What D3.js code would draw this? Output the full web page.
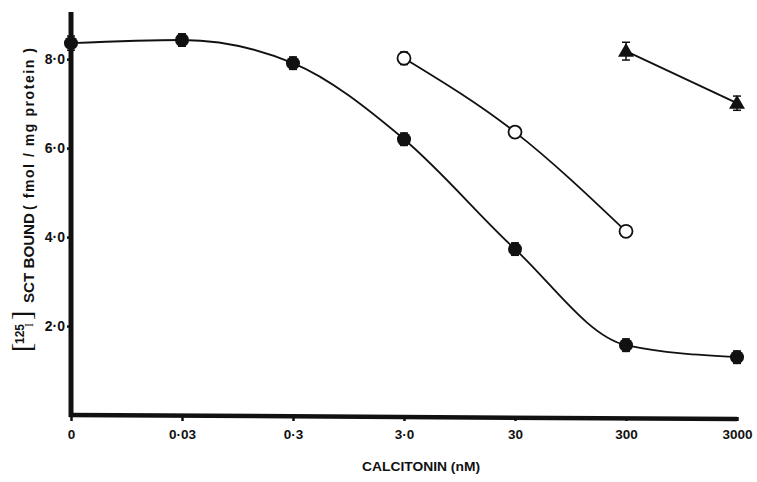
<!DOCTYPE html>
<html>
<head>
<meta charset="utf-8">
<script src="https://cdn.jsdelivr.net/npm/d3@7"></script>
<style>
  body { margin: 0; background: #fff; }
  svg { display: block; }
</style>
</head>
<body>
<div id="chart"></div>
<script>
// ---- Data ----
const doses = ['0', '0·03', '0·3', '3·0', '30', '300', '3000'];
const yTicks = [2, 4, 6, 8];
const yTickLabels = ['2·0', '4·0', '6·0', '8·0'];

// filled circles: full dose range
const filledDoses = ['0', '0·03', '0·3', '3·0', '30', '300', '3000'];
const filledValues = [8.36, 8.43, 7.91, 6.2, 3.73, 1.57, 1.3];
const filledErr = [0.16, 0.14, 0.14, 0.14, 0.14, 0.14, 0.14];

// open circles
const openDoses = ['3·0', '30', '300'];
const openValues = [8.02, 6.36, 4.13];
const openErr = [0.14, 0.12, 0.1];

// triangles
const triDoses = ['300', '3000'];
const triValues = [8.18, 7.01];
const triErr = [0.2, 0.16];

const width = 757, height = 482;
const margin = { top: 12, right: 20, bottom: 67, left: 71 };
const innerWidth = width - margin.left - margin.right;
const innerHeight = height - margin.top - margin.bottom;
const SANS = '"Liberation Sans", Arial, sans-serif';
const SERIF = '"Liberation Serif", serif';

const svg = d3.select('#chart').append('svg')
  .attr('width', width).attr('height', height)
  .attr('font-family', SANS).attr('font-weight', 'bold').attr('fill', '#111');
const g = svg.append('g').attr('transform', `translate(${margin.left},${margin.top})`);

// ---- Scales ----
const x = d3.scalePoint().domain(doses).range([0, 666]);
const y = d3.scaleLinear().domain([0, 9.06]).range([innerHeight, 0]);

// ---- Axes ----
g.append('line')
  .attr('x1', 0).attr('x2', 0).attr('y1', 0).attr('y2', innerHeight + 2)
  .attr('stroke', '#111').attr('stroke-width', 5);
g.append('line')
  .attr('x1', -2).attr('x2', x('3000')).attr('y1', innerHeight).attr('y2', innerHeight + 4)
  .attr('stroke', '#111').attr('stroke-width', 4.5);

const yAxis = g.append('g')
  .call(d3.axisLeft(y).tickValues(yTicks).tickSize(4).tickPadding(2)
    .tickFormat((d, i) => yTickLabels[i]))
  .call(a => a.select('.domain').remove());
yAxis.selectAll('line').attr('stroke', '#111').attr('stroke-width', 2.5);
yAxis.selectAll('text').attr('font-size', 14).attr('font-family', SANS)
  .attr('font-weight', 'bold').attr('fill', '#111');

const xAxis = g.append('g')
  .attr('transform', `translate(0,${innerHeight + 2})`)
  .call(d3.axisBottom(x).tickSize(4).tickPadding(8))
  .call(a => a.select('.domain').remove());
xAxis.selectAll('line').attr('stroke', '#111').attr('stroke-width', 2.5);
xAxis.selectAll('text').attr('font-size', 13.5).attr('font-family', SANS)
  .attr('font-weight', 'bold').attr('fill', '#111');

// ---- Axis titles ----
svg.append('text')
  .attr('x', 421).attr('y', 471)
  .attr('text-anchor', 'middle')
  .attr('font-size', 13)
  .attr('textLength', 118).attr('lengthAdjust', 'spacingAndGlyphs')
  .text('CALCITONIN (nM)');

// y title: rotated pieces, reading bottom to top
const yt = svg.append('g').attr('transform', 'translate(34,0) rotate(-90)');
// [125 I] bracket part
yt.append('text').attr('x', -352).attr('y', -3).attr('font-size', 28).attr('font-weight', 'normal')
  .attr('font-family', SERIF).text('[');
yt.append('text').attr('x', -344).attr('y', -10).attr('font-size', 12).text('125');
yt.append('text').attr('x', -327).attr('y', -1).attr('font-size', 12).attr('font-weight', 'normal')
  .attr('font-family', SERIF).text('I');
yt.append('text').attr('x', -320).attr('y', -3).attr('font-size', 28).attr('font-weight', 'normal')
  .attr('font-family', SERIF).text(']');
yt.append('text').attr('x', -303).attr('y', 0).attr('font-size', 14)
  .attr('textLength', 90).attr('lengthAdjust', 'spacingAndGlyphs').text('SCT BOUND');
yt.append('text').attr('x', -210).attr('y', 0).attr('font-size', 14)
  .attr('textLength', 162).attr('lengthAdjust', 'spacing').text('( fmol / mg protein )');

// ---- Series ----
function series(dx, vals, errs, curve) {
  const pts = dx.map((d, i) => ({ d, v: vals[i], e: errs[i] }));
  g.append('path')
    .datum(pts)
    .attr('fill', 'none').attr('stroke', '#111').attr('stroke-width', 1.8)
    .attr('d', d3.line().x(p => x(p.d)).y(p => y(p.v)).curve(curve));
  const eb = g.append('g');
  pts.forEach(p => {
    eb.append('line')
      .attr('x1', x(p.d)).attr('x2', x(p.d))
      .attr('y1', y(p.v + p.e)).attr('y2', y(p.v - p.e))
      .attr('stroke', '#111').attr('stroke-width', 1.5);
    [p.v + p.e, p.v - p.e].forEach(v => eb.append('line')
      .attr('x1', x(p.d) - 4).attr('x2', x(p.d) + 4)
      .attr('y1', y(v)).attr('y2', y(v))
      .attr('stroke', '#111').attr('stroke-width', 1.5));
  });
  return pts;
}

const fp = series(filledDoses, filledValues, filledErr, d3.curveMonotoneX);
g.selectAll('.filled').data(fp).join('circle')
  .attr('cx', p => x(p.d)).attr('cy', p => y(p.v)).attr('r', 7)
  .attr('fill', '#111');

const op = series(openDoses, openValues, openErr, d3.curveMonotoneX);
g.selectAll('.open').data(op).join('circle')
  .attr('cx', p => x(p.d)).attr('cy', p => y(p.v)).attr('r', 6.5)
  .attr('fill', '#fff').attr('stroke', '#111').attr('stroke-width', 1.8);

const tp = series(triDoses, triValues, triErr, d3.curveLinear);
g.selectAll('.tri').data(tp).join('path')
  .attr('transform', p => `translate(${x(p.d)},${y(p.v) + 1})`)
  .attr('d', d3.symbol().type(d3.symbolTriangle).size(110))
  .attr('fill', '#111');
</script>
</body>
</html>
